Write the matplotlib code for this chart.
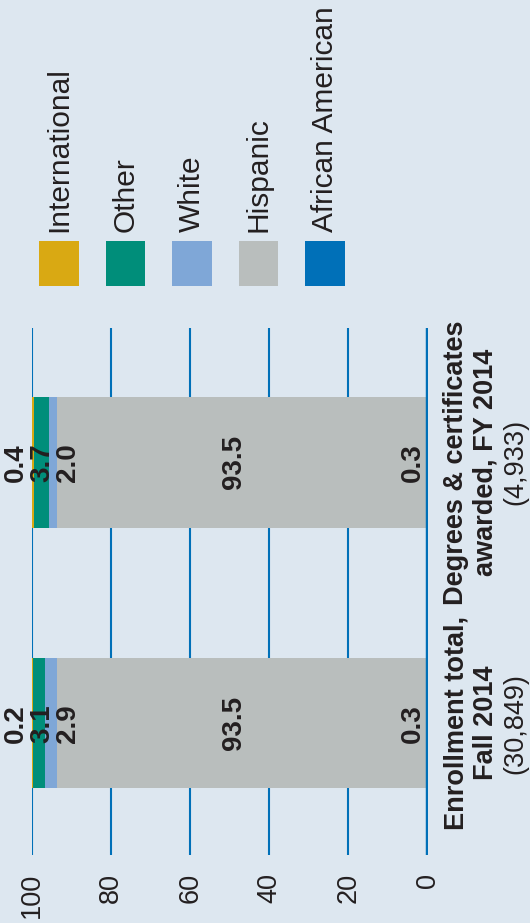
import matplotlib
matplotlib.use('Agg')
import matplotlib.pyplot as plt

plt.rcParams['font.family'] = ['Liberation Sans', 'DejaVu Sans']
plt.rcParams['font.size'] = 20

bg = '#dde7f0'
ink = '#231f20'
blue = '#0070b8'

# data: shares in percent, stacked from 0 outwards
groups = ['African American', 'Hispanic', 'White', 'Other', 'International']
colors = ['#0070b8', '#b9bebd', '#7fa7d7', '#008e7a', '#d9a913']
enrollment = [0.3, 93.5, 2.9, 3.1, 0.2]
degrees = [0.3, 93.5, 2.0, 3.7, 0.4]
bars = [enrollment, degrees]
cat_line1 = ['Enrollment total,', 'Degrees & certificates']
cat_line2 = ['Fall 2014', 'awarded, FY 2014']
cat_line3 = ['(30,849)', '(4,933)']
label_x = [3.7, 49, 90.9, 97.4, 104]

fig = plt.figure(figsize=(5.3, 9.23), dpi=100, facecolor=bg)
W, H = 530, 923
ax = fig.add_axes([32 / W, 1 - 855 / H, (427.6 - 32) / W, (855 - 328) / H])
ax.set_facecolor(bg)

for i, vals in enumerate(bars):
    left = 0
    for j, v in enumerate(vals):
        ax.barh(i, v, left=left, height=0.5, color=colors[j], zorder=2)
        ax.text(label_x[j], i, f'{v:.1f}', rotation=90, ha='center', va='center',
                fontweight='bold', color=ink, zorder=3)
        left += v
    for k, (txt, fw) in enumerate([(cat_line1[i], 'bold'), (cat_line2[i], 'bold'),
                                   (cat_line3[i], 'normal')]):
        ax.annotate(txt, xy=(0, i), xytext=(28.5 + 29.5 * k, 0), textcoords='offset pixels',
                    rotation=90, ha='center', va='center', fontweight=fw, color=ink,
                    fontsize=19.5, annotation_clip=False)

ax.set_xlim(100, 0)
ax.set_ylim(-0.505, 1.515)
for g in [20, 40, 60, 80, 100]:
    ax.axvline(g, color=blue, lw=1.5, zorder=1)
ax.axvline(0, color=blue, lw=3.2, zorder=4)
ax.set_xticks([0, 20, 40, 60, 80, 100])
ax.tick_params(axis='x', length=0, pad=13, labelrotation=90, colors=ink, labelsize=19.5)
ax.set_yticks([])
for s in ax.spines.values():
    s.set_visible(False)

# legend, drawn as its own little axes
lg_names = groups[::-1]
lg_colors = colors[::-1]
lax = fig.add_axes([25.75 / W, 1 - 286 / H, 66.5 * 5 / W, 45 / H])
lax.set_xlim(-0.5, 4.5)
lax.set_ylim(0, 1)
lax.axis('off')
for i, (name, c) in enumerate(zip(lg_names, lg_colors)):
    lax.bar(i, 1, width=0.6, color=c)
    lax.annotate(name, xy=(i, 1), xytext=(0, 9), textcoords='offset pixels',
                 rotation=90, ha='center', va='bottom', color=ink, fontsize=21.5,
                 annotation_clip=False)

fig.savefig('out.png', dpi=100, facecolor=bg)
